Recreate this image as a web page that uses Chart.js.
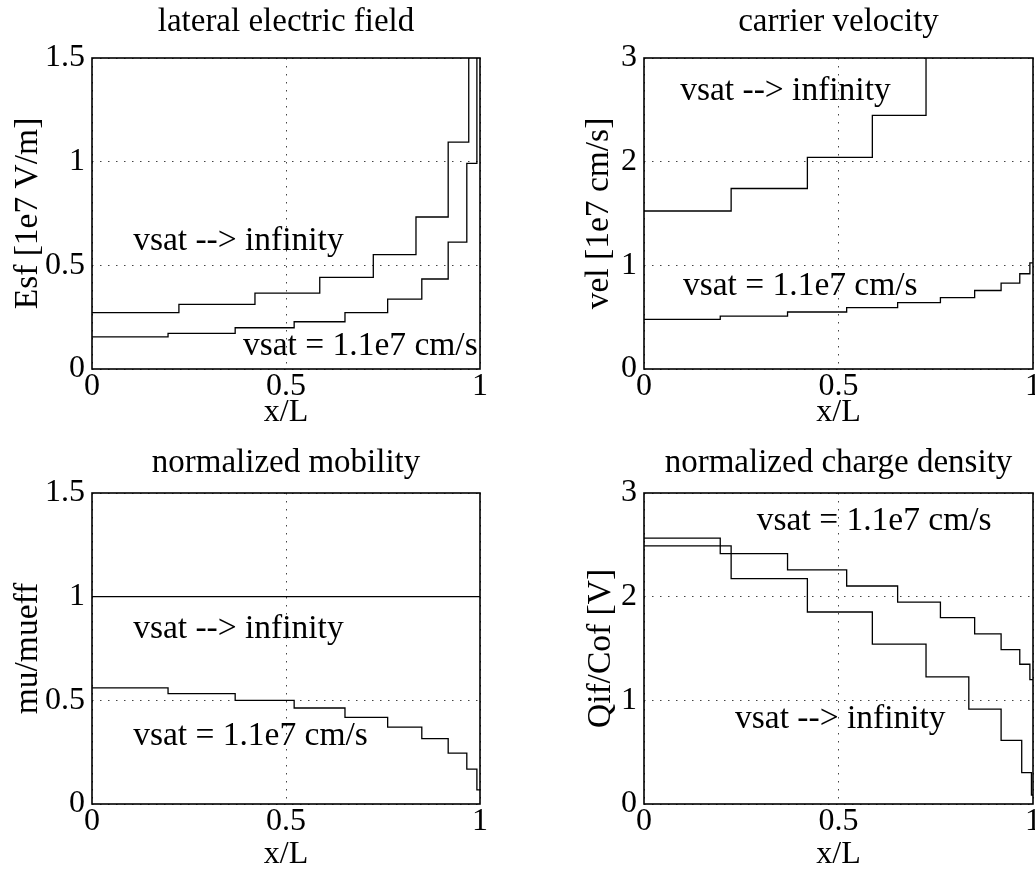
<!DOCTYPE html>
<html>
<head>
<meta charset="utf-8">
<script src="https://cdn.jsdelivr.net/npm/chart.js@4/dist/chart.umd.min.js"></script>
<style>
  html, body { margin: 0; padding: 0; background: #fff; overflow: hidden; width: 1035px; height: 878px; }
  canvas { position: absolute; }
</style>
</head>
<body>
<canvas id="c1" width="517" height="439" style="left:0;top:0"></canvas>
<canvas id="c2" width="540" height="439" style="left:517px;top:0"></canvas>
<canvas id="c3" width="517" height="439" style="left:0;top:439px"></canvas>
<canvas id="c4" width="540" height="439" style="left:517px;top:439px"></canvas>
<script>
// ── Data ────────────────────────────────────────────────────────────────────
// step edges along x/L (stairs), one level per segment
const edgesSat = [0, 0.196, 0.369, 0.521, 0.652, 0.762, 0.850, 0.918, 0.966, 0.992, 1];
const edgesInf = [0, 0.224, 0.420, 0.587, 0.725, 0.835, 0.918, 0.971, 0.996, 1];

const esfInf = [0.272, 0.312, 0.366, 0.442, 0.552, 0.733, 1.094, 2.2, 8.4];
const esfSat = [0.155, 0.172, 0.199, 0.228, 0.272, 0.337, 0.434, 0.612, 0.992, 2.6];

const velInf = [1.524, 1.741, 2.042, 2.447, 3.3, 4.4, 6.6, 13, 50];
const velSat = [0.479, 0.511, 0.550, 0.592, 0.641, 0.689, 0.757, 0.828, 0.919, 1.023];

const muInf = [1, 1, 1, 1, 1, 1, 1, 1, 1];
const muSat = [0.560, 0.532, 0.500, 0.463, 0.418, 0.371, 0.315, 0.245, 0.168, 0.068];

const qInf = [2.490, 2.174, 1.852, 1.542, 1.226, 0.916, 0.613, 0.303, 0.087];
const qSat = [2.565, 2.416, 2.258, 2.103, 1.948, 1.797, 1.642, 1.490, 1.348, 1.200];

const xTicks = [0, 0.5, 1];
const LBL_INF = 'vsat --> infinity';
const LBL_SAT = 'vsat = 1.1e7 cm/s';

// ── Defaults ────────────────────────────────────────────────────────────────
const FONT = "'Liberation Serif', 'DejaVu Serif', serif";
Chart.defaults.font.family = FONT;
Chart.defaults.font.size = 32;
Chart.defaults.color = '#000';
const fmt = v => String(+v.toFixed(2));

function stairs(edges, levels) {
  const pts = levels.map((v, i) => ({ x: edges[i], y: v }));
  pts.push({ x: edges[edges.length - 1], y: levels[levels.length - 1] });
  return pts;
}

// box around the axes, like matlab's "box on"
const frame = {
  id: 'frame',
  afterDatasetsDraw(chart) {
    const { ctx, chartArea: a } = chart;
    ctx.save();
    ctx.strokeStyle = '#000';
    ctx.lineWidth = 1.6;
    ctx.strokeRect(a.left, a.top, a.right - a.left, a.bottom - a.top);
    ctx.restore();
  }
};

// text labels placed in data coordinates
const notes = {
  id: 'notes',
  afterDatasetsDraw(chart, args, opts) {
    const { ctx, scales: { x, y } } = chart;
    ctx.save();
    ctx.font = `33.5px ${FONT}`;
    ctx.fillStyle = '#000';
    ctx.textAlign = 'left';
    ctx.textBaseline = 'alphabetic';
    (opts.items || []).forEach(n => ctx.fillText(n.text, x.getPixelForValue(n.x), y.getPixelForValue(n.y)));
    ctx.restore();
  }
};

function panel(id, p) {
  return new Chart(document.getElementById(id), {
    type: 'line',
    data: {
      datasets: p.curves.map(c => ({
        data: stairs(c.edges, c.levels),
        stepped: true, borderColor: '#000', borderWidth: 1.3,
        pointRadius: 0, fill: false
      }))
    },
    options: {
      responsive: false, animation: false, devicePixelRatio: 1,
      layout: { padding: { left: 0, right: p.padRight, top: 0, bottom: 0 } },
      plugins: {
        legend: { display: false },
        tooltip: { enabled: false },
        title: { display: true, fullSize: false, text: p.title, font: { size: 33, weight: 'normal' },
                 color: '#000', padding: p.titlePad },
        notes: { items: p.notes }
      },
      scales: {
        x: {
          type: 'linear', min: 0, max: 1,
          afterBuildTicks: s => { s.ticks = xTicks.map(v => ({ value: v })); },
          ticks: { padding: -2, maxRotation: 0, autoSkip: false, callback: fmt },
          grid: { color: '#444', lineWidth: 1, drawTicks: false },
          border: { display: false, dash: [1.5, 6.5] },
          title: { display: true, text: 'x/L', padding: { top: 0, bottom: p.xTitlePad } },
          afterFit: s => { s.height = p.xHeight; }
        },
        y: {
          min: 0, max: p.ymax,
          ticks: { stepSize: p.ystep, padding: 7, callback: fmt },
          grid: { color: '#444', lineWidth: 1, drawTicks: false },
          border: { display: false, dash: [1.5, 6.5] },
          title: { display: true, text: p.ylabel, font: { size: 33.5 }, padding: { top: p.yTitlePad, bottom: 0 } },
          afterFit: s => { s.width = p.yWidth; }
        }
      }
    },
    plugins: [frame, notes]
  });
}

// ── Panels ──────────────────────────────────────────────────────────────────
panel('c1', {
  title: 'lateral electric field', ylabel: 'Esf [1e7 V/m]', ymax: 1.5, ystep: 0.5,
  yWidth: 92, padRight: 37, titlePad: { top: 3, bottom: 15.4 },
  xHeight: 70, xTitlePad: 6.8, yTitlePad: 8.5,
  curves: [{ edges: edgesInf, levels: esfInf }, { edges: edgesSat, levels: esfSat }],
  notes: [{ text: LBL_INF, x: 0.106, y: 0.574 }, { text: LBL_SAT, x: 0.389, y: 0.068 }]
});

panel('c2', {
  title: 'carrier velocity', ylabel: 'vel [1e7 cm/s]', ymax: 3, ystep: 1,
  yWidth: 127, padRight: 24, titlePad: { top: 3, bottom: 15.4 },
  xHeight: 70, xTitlePad: 6.8, yTitlePad: 62,
  curves: [{ edges: edgesInf, levels: velInf }, { edges: edgesSat, levels: velSat }],
  notes: [{ text: LBL_INF, x: 0.093, y: 2.595 }, { text: LBL_SAT, x: 0.1, y: 0.714 }]
});

panel('c3', {
  title: 'normalized mobility', ylabel: 'mu/mueff', ymax: 1.5, ystep: 0.5,
  yWidth: 92, padRight: 37, titlePad: { top: 4.5, bottom: 9.9 },
  xHeight: 74, xTitlePad: 3.8, yTitlePad: 8.5,
  curves: [{ edges: edgesInf, levels: muInf }, { edges: edgesSat, levels: muSat }],
  notes: [{ text: LBL_INF, x: 0.106, y: 0.80 }, { text: LBL_SAT, x: 0.106, y: 0.285 }]
});

panel('c4', {
  title: 'normalized charge density', ylabel: 'Qif/Cof [V]', ymax: 3, ystep: 1,
  yWidth: 127, padRight: 24, titlePad: { top: 4.5, bottom: 9.9 },
  xHeight: 74, xTitlePad: 3.8, yTitlePad: 64,
  curves: [{ edges: edgesInf, levels: qInf }, { edges: edgesSat, levels: qSat }],
  notes: [{ text: LBL_SAT, x: 0.29, y: 2.643 }, { text: LBL_INF, x: 0.234, y: 0.733 }]
});
</script>
</body>
</html>
